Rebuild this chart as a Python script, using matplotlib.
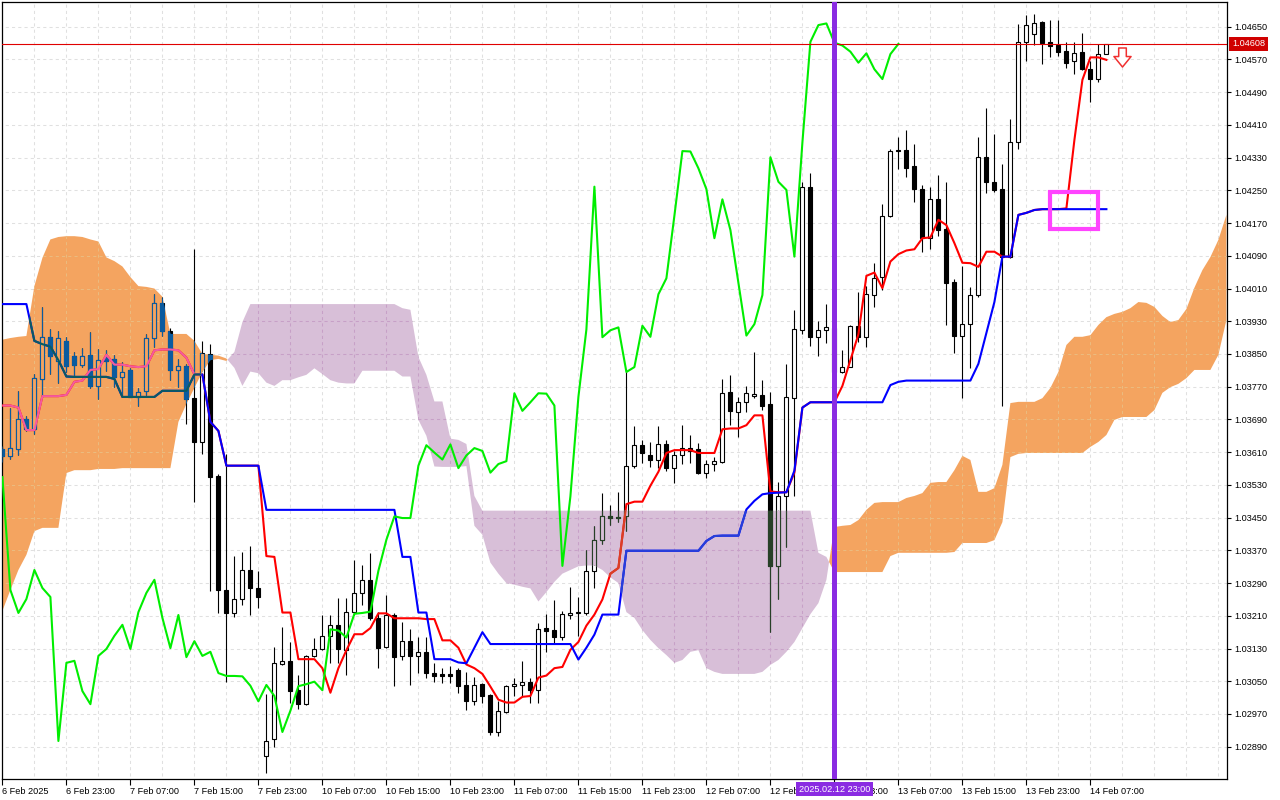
import numpy as np
import matplotlib
matplotlib.use('Agg')
import matplotlib.pyplot as plt
import matplotlib.colors as mcolors
from matplotlib.path import Path
from matplotlib.patches import Rectangle

plt.rcParams['font.family'] = ['Liberation Sans', 'DejaVu Sans']

# ---- hourly candles, 6 Feb 15:00 .. 14 Feb 10:00 ----
opens = [
    1.03618, 1.03601, 1.03618, 1.03691, 1.03667, 1.03789, 1.03892, 1.03833, 1.03882, 1.03845,
    1.03823, 1.03848, 1.03772, 1.03841, 1.03838, 1.03794, 1.03811, 1.03745, 1.03760, 1.03888,
    1.03975, 1.03906, 1.03811, 1.03821, 1.03742, 1.03635, 1.03850, 1.03552, 1.03273, 1.03217,
    1.03251, 1.03322, 1.03278, 1.02867, 1.02909, 1.03092, 1.03100, 1.03029, 1.02994, 1.03112,
    1.03129, 1.03161, 1.03188, 1.03126, 1.03219, 1.03266, 1.03298, 1.03205, 1.03134, 1.03212,
    1.03112, 1.03148, 1.03112, 1.03122, 1.03070, 1.03068, 1.03067, 1.03078, 1.03041, 1.03001,
    1.03043, 1.03016, 1.02925, 1.02976, 1.03038, 1.03041, 1.03049, 1.03028, 1.03179, 1.03175,
    1.03157, 1.03213, 1.03216, 1.03218, 1.03320, 1.03396, 1.03453, 1.03452, 1.03453, 1.03577,
    1.03627, 1.03604, 1.03590, 1.03629, 1.03571, 1.03602, 1.03620, 1.03618, 1.03560, 1.03581,
    1.03587, 1.03756, 1.03708, 1.03733, 1.03748, 1.03749, 1.03728, 1.03332, 1.03502, 1.03743,
    1.03908, 1.04259, 1.03891, 1.03908, 1.03914, 1.03805, 1.03818, 1.03919, 1.03892, 1.03993,
    1.04038, 1.04188, 1.04349, 1.04349, 1.04310, 1.04253, 1.04133, 1.04229, 1.04156, 1.04027,
    1.03895, 1.03923, 1.03993, 1.04331, 1.04271, 1.04253, 1.04088, 1.04367, 1.04613, 1.04631,
    1.04661, 1.04612, 1.04605, 1.04591, 1.04565, 1.04587, 1.04546, 1.04522, 1.04583,
]
highs = [
    1.03625, 1.03719, 1.03760, 1.03698, 1.03802, 1.03965, 1.03911, 1.03906, 1.03892, 1.03855,
    1.03865, 1.03903, 1.03863, 1.03860, 1.03848, 1.03830, 1.03816, 1.03767, 1.03899, 1.03997,
    1.03989, 1.03914, 1.03838, 1.03826, 1.04107, 1.03882, 1.03874, 1.03557, 1.03606, 1.03356,
    1.03366, 1.03381, 1.03320, 1.03019, 1.03134, 1.03183, 1.03146, 1.03065, 1.03114, 1.03156,
    1.03212, 1.03212, 1.03254, 1.03254, 1.03346, 1.03334, 1.03364, 1.03219, 1.03261, 1.03217,
    1.03195, 1.03178, 1.03158, 1.03158, 1.03095, 1.03082, 1.03087, 1.03082, 1.03073, 1.03061,
    1.03046, 1.03019, 1.03001, 1.03041, 1.03058, 1.03100, 1.03059, 1.03193, 1.03215, 1.03248,
    1.03222, 1.03281, 1.03257, 1.03372, 1.03429, 1.03510, 1.03481, 1.03513, 1.03813, 1.03674,
    1.03640, 1.03636, 1.03674, 1.03640, 1.03613, 1.03676, 1.03652, 1.03632, 1.03592, 1.03597,
    1.03790, 1.03799, 1.03745, 1.03772, 1.03855, 1.03786, 1.03758, 1.03536, 1.03825, 1.03958,
    1.04270, 1.04293, 1.03931, 1.03971, 1.03928, 1.03860, 1.03921, 1.04001, 1.04015, 1.04073,
    1.04216, 1.04350, 1.04381, 1.04398, 1.04363, 1.04263, 1.04259, 1.04287, 1.04270, 1.04033,
    1.04066, 1.04013, 1.04380, 1.04451, 1.04388, 1.04314, 1.04424, 1.04657, 1.04679, 1.04680,
    1.04665, 1.04666, 1.04666, 1.04612, 1.04612, 1.04634, 1.04565, 1.04607, 1.04608,
]
lows = [
    1.03586, 1.03594, 1.03603, 1.03662, 1.03655, 1.03745, 1.03801, 1.03780, 1.03805, 1.03794,
    1.03818, 1.03767, 1.03739, 1.03808, 1.03769, 1.03744, 1.03744, 1.03723, 1.03750, 1.03867,
    1.03894, 1.03786, 1.03769, 1.03680, 1.03488, 1.03606, 1.03271, 1.03217, 1.03048, 1.03207,
    1.03236, 1.03212, 1.03229, 1.02826, 1.02889, 1.03090, 1.02997, 1.02982, 1.02992, 1.03109,
    1.03126, 1.03095, 1.03095, 1.03065, 1.03212, 1.03236, 1.03200, 1.03082, 1.03131, 1.03038,
    1.03102, 1.03041, 1.03070, 1.03058, 1.03048, 1.03046, 1.03046, 1.03021, 1.02980, 1.02993,
    1.02997, 1.02919, 1.02916, 1.02973, 1.03014, 1.03014, 1.02996, 1.02996, 1.03121, 1.03141,
    1.03152, 1.03202, 1.03161, 1.03213, 1.03277, 1.03386, 1.03432, 1.03439, 1.03417, 1.03571,
    1.03584, 1.03573, 1.03571, 1.03565, 1.03535, 1.03581, 1.03584, 1.03557, 1.03546, 1.03565,
    1.03584, 1.03676, 1.03647, 1.03708, 1.03742, 1.03714, 1.03170, 1.03250, 1.03378, 1.03502,
    1.03899, 1.03870, 1.03844, 1.03876, 1.03786, 1.03804, 1.03817, 1.03880, 1.03868, 1.03964,
    1.04006, 1.04184, 1.04302, 1.04283, 1.04222, 1.04100, 1.04107, 1.04138, 1.03921, 1.03853,
    1.03743, 1.03815, 1.03990, 1.04243, 1.04247, 1.03723, 1.04084, 1.04351, 1.04567, 1.04605,
    1.04558, 1.04575, 1.04578, 1.04550, 1.04534, 1.04544, 1.04467, 1.04516, 1.04583,
]
closes = [
    1.03601, 1.03620, 1.03691, 1.03667, 1.03791, 1.03892, 1.03845, 1.03889, 1.03821, 1.03823,
    1.03845, 1.03772, 1.03835, 1.03833, 1.03794, 1.03806, 1.03745, 1.03756, 1.03889, 1.03975,
    1.03906, 1.03811, 1.03821, 1.03741, 1.03635, 1.03852, 1.03549, 1.03273, 1.03217, 1.03251,
    1.03322, 1.03278, 1.03256, 1.02904, 1.03095, 1.03100, 1.03026, 1.02994, 1.03112, 1.03129,
    1.03161, 1.03188, 1.03129, 1.03219, 1.03266, 1.03298, 1.03205, 1.03131, 1.03212, 1.03109,
    1.03148, 1.03112, 1.03122, 1.03070, 1.03063, 1.03063, 1.03062, 1.03039, 1.03001, 1.03041,
    1.03014, 1.02926, 1.02978, 1.03038, 1.03043, 1.03049, 1.03028, 1.03177, 1.03174, 1.03157,
    1.03215, 1.03217, 1.03220, 1.03320, 1.03396, 1.03453, 1.03449, 1.03449, 1.03577, 1.03627,
    1.03609, 1.03592, 1.03629, 1.03571, 1.03602, 1.03620, 1.03613, 1.03560, 1.03581, 1.03588,
    1.03754, 1.03711, 1.03732, 1.03754, 1.03753, 1.03724, 1.03332, 1.03502, 1.03745, 1.03910,
    1.04259, 1.03891, 1.03908, 1.03915, 1.03806, 1.03818, 1.03919, 1.03892, 1.03996, 1.04035,
    1.04188, 1.04346, 1.04345, 1.04304, 1.04253, 1.04133, 1.04228, 1.04153, 1.04024, 1.03895,
    1.03923, 1.03994, 1.04331, 1.04271, 1.04251, 1.04088, 1.04367, 1.04613, 1.04654, 1.04658,
    1.04611, 1.04604, 1.04589, 1.04562, 1.04585, 1.04546, 1.04522, 1.04583, 1.04608,
]

# ---- Ichimoku lines ----
tenkan = [
    1.03724, 1.03724, 1.03719, 1.03664, 1.03664, 1.03747, 1.03747, 1.03747, 1.03750, 1.03782,
    1.03785, 1.03811, 1.03813, 1.03848, 1.03824, 1.03824, 1.03820, 1.03818, 1.03820, 1.03859,
    1.03861, 1.03861, 1.03859, 1.03841, 1.03800, 1.03800, 1.03684, 1.03662, 1.03577, 1.03577,
    1.03577, 1.03577, 1.03577, 1.03356, 1.03354, 1.03218, 1.03218, 1.03104, 1.03104, 1.03104,
    1.03082, 1.03022, 1.03082, 1.03126, 1.03165, 1.03165, 1.03180, 1.03216, 1.03216, 1.03204,
    1.03204, 1.03204, 1.03204, 1.03202, 1.03202, 1.03150, 1.03150, 1.03132, 1.03091, 1.03082,
    1.03068, 1.03037, 1.03005, 1.02998, 1.02998, 1.03012, 1.03014, 1.03059, 1.03064, 1.03082,
    1.03085, 1.03127, 1.03146, 1.03186, 1.03213, 1.03250, 1.03313, 1.03327, 1.03483, 1.03489,
    1.03489, 1.03528, 1.03562, 1.03608, 1.03615, 1.03615, 1.03615, 1.03608, 1.03608, 1.03608,
    1.03666, 1.03668, 1.03668, 1.03676, 1.03700, 1.03700, 1.03514, 1.03512, 1.03512, 1.03560,
    1.03719, 1.03732, 1.03732, 1.03732, 1.03732, 1.03772, 1.03835, 1.03898, 1.04041, 1.04049,
    1.04011, 1.04076, 1.04094, 1.04103, 1.04106, 1.04133, 1.04135, 1.04178, 1.04165, 1.04121,
    1.04073, 1.04072, 1.04063, 1.04100, 1.04100, 1.04088, 1.04088, 1.04190, 1.04195, 1.04202,
    1.04204, 1.04204, 1.04204, 1.04206, 1.04373, 1.04520, 1.04575, 1.04575, 1.04569,
]
kijun = [
    1.03972, 1.03972, 1.03972, 1.03972, 1.03882, 1.03874, 1.03868, 1.03835, 1.03795, 1.03794,
    1.03794, 1.03794, 1.03794, 1.03794, 1.03789, 1.03745, 1.03745, 1.03745, 1.03745, 1.03745,
    1.03760, 1.03760, 1.03760, 1.03760, 1.03800, 1.03800, 1.03684, 1.03662, 1.03577, 1.03577,
    1.03577, 1.03577, 1.03577, 1.03469, 1.03469, 1.03469, 1.03469, 1.03469, 1.03469, 1.03469,
    1.03469, 1.03469, 1.03469, 1.03469, 1.03469, 1.03469, 1.03469, 1.03469, 1.03469, 1.03469,
    1.03354, 1.03354, 1.03218, 1.03218, 1.03104, 1.03104, 1.03104, 1.03096, 1.03094, 1.03132,
    1.03170, 1.03141, 1.03141, 1.03141, 1.03141, 1.03141, 1.03141, 1.03141, 1.03141, 1.03141,
    1.03141, 1.03141, 1.03103, 1.03132, 1.03164, 1.03213, 1.03213, 1.03213, 1.03369, 1.03369,
    1.03369, 1.03369, 1.03369, 1.03369, 1.03369, 1.03369, 1.03369, 1.03369, 1.03393, 1.03405,
    1.03406, 1.03406, 1.03406, 1.03470, 1.03491, 1.03507, 1.03510, 1.03511, 1.03512, 1.03565,
    1.03719, 1.03732, 1.03732, 1.03732, 1.03732, 1.03732, 1.03732, 1.03732, 1.03732, 1.03732,
    1.03732, 1.03774, 1.03782, 1.03785, 1.03785, 1.03785, 1.03785, 1.03785, 1.03785, 1.03785,
    1.03785, 1.03785, 1.03826, 1.03901, 1.03977, 1.04088, 1.04088, 1.04190, 1.04195, 1.04202,
    1.04204, 1.04204, 1.04204, 1.04204, 1.04204, 1.04204, 1.04204, 1.04204, 1.04204,
]
span_a = [
    1.03885, 1.03889, 1.03892, 1.03894, 1.04016, 1.04085, 1.04130, 1.04136, 1.04138, 1.04138,
    1.04136, 1.04130, 1.04125, 1.04086, 1.04077, 1.04064, 1.04038, 1.04016, 1.04014, 1.04010,
    1.03990, 1.03899, 1.03899, 1.03899, 1.03882, 1.03850, 1.03848, 1.03846, 1.03839, 1.03816,
    1.03772, 1.03807, 1.03803, 1.03780, 1.03772, 1.03786, 1.03786, 1.03793, 1.03799, 1.03815,
    1.03801, 1.03786, 1.03780, 1.03778, 1.03778, 1.03809, 1.03809, 1.03809, 1.03809, 1.03809,
    1.03795, 1.03795, 1.03689, 1.03650, 1.03575, 1.03574, 1.03574, 1.03574, 1.03576, 1.03430,
    1.03408, 1.03340, 1.03313, 1.03290, 1.03286, 1.03281, 1.03277, 1.03245, 1.03268, 1.03293,
    1.03313, 1.03322, 1.03331, 1.03333, 1.03333, 1.03322, 1.03304, 1.03290, 1.03219, 1.03205,
    1.03175, 1.03151, 1.03131, 1.03114, 1.03095, 1.03102, 1.03122, 1.03126, 1.03082, 1.03073,
    1.03068, 1.03068, 1.03068, 1.03068, 1.03068, 1.03073, 1.03090, 1.03102, 1.03122, 1.03146,
    1.03180, 1.03214, 1.03241, 1.03298, 1.03427, 1.03430, 1.03432, 1.03444, 1.03469, 1.03486,
    1.03488, 1.03488, 1.03488, 1.03498, 1.03503, 1.03510, 1.03535, 1.03537, 1.03537, 1.03566,
    1.03601, 1.03591, 1.03513, 1.03513, 1.03522, 1.03579, 1.03730, 1.03733, 1.03733, 1.03733,
    1.03742, 1.03767, 1.03806, 1.03872, 1.03892, 1.03892, 1.03896, 1.03921, 1.03940, 1.03948,
    1.03953, 1.03962, 1.03977, 1.03975, 1.03965, 1.03943, 1.03928, 1.03933, 1.03960, 1.04012,
    1.04055, 1.04087, 1.04129, 1.04190,
]
span_b = [
    1.03222, 1.03273, 1.03322, 1.03359, 1.03417, 1.03425, 1.03425, 1.03425, 1.03559, 1.03566,
    1.03566, 1.03566, 1.03569, 1.03569, 1.03569, 1.03571, 1.03571, 1.03571, 1.03571, 1.03571,
    1.03571, 1.03571, 1.03684, 1.03728, 1.03767, 1.03806, 1.03835, 1.03838, 1.03833, 1.03855,
    1.03928, 1.03972, 1.03972, 1.03972, 1.03972, 1.03972, 1.03972, 1.03972, 1.03972, 1.03972,
    1.03972, 1.03972, 1.03972, 1.03972, 1.03972, 1.03972, 1.03972, 1.03972, 1.03972, 1.03972,
    1.03962, 1.03958, 1.03843, 1.03799, 1.03734, 1.03734, 1.03643, 1.03640, 1.03630, 1.03503,
    1.03467, 1.03467, 1.03467, 1.03467, 1.03467, 1.03467, 1.03467, 1.03467, 1.03467, 1.03467,
    1.03467, 1.03467, 1.03467, 1.03467, 1.03467, 1.03467, 1.03467, 1.03467, 1.03467, 1.03467,
    1.03467, 1.03467, 1.03467, 1.03467, 1.03467, 1.03467, 1.03467, 1.03467, 1.03467, 1.03467,
    1.03467, 1.03467, 1.03467, 1.03467, 1.03467, 1.03467, 1.03467, 1.03467, 1.03467, 1.03467,
    1.03467, 1.03467, 1.03364, 1.03354, 1.03317, 1.03317, 1.03317, 1.03317, 1.03317, 1.03317,
    1.03317, 1.03356, 1.03364, 1.03364, 1.03364, 1.03364, 1.03364, 1.03364, 1.03364, 1.03366,
    1.03388, 1.03388, 1.03388, 1.03388, 1.03395, 1.03439, 1.03598, 1.03606, 1.03608, 1.03608,
    1.03608, 1.03608, 1.03608, 1.03608, 1.03608, 1.03608, 1.03623, 1.03635, 1.03652, 1.03689,
    1.03696, 1.03696, 1.03696, 1.03696, 1.03713, 1.03755, 1.03769, 1.03777, 1.03791, 1.03811,
    1.03811, 1.03811, 1.03848, 1.03933,
]
chikou_shift = 26

tick_labels = ["6 Feb 2025", "6 Feb 23:00", "7 Feb 07:00", "7 Feb 15:00", "7 Feb 23:00",
               "10 Feb 07:00", "10 Feb 15:00", "10 Feb 23:00", "11 Feb 07:00", "11 Feb 15:00",
               "11 Feb 23:00", "12 Feb 07:00", "12 Feb 15:00", "12 Feb 23:00", "13 Feb 07:00",
               "13 Feb 15:00", "13 Feb 23:00", "14 Feb 07:00"]
bars_per_label = 8
price_ticks = [round(1.02890 + 0.0008 * k, 5) for k in range(23)]

last_price = 1.04608
vline_bar = 104
vline_label = "2025.02.12 23:00"
box_bars = (131, 137)
box_prices = (1.04156, 1.04246)
arrow_bar, arrow_price = 140, 1.04576

SANDY = '#F4A460'
THISTLE = '#D8BFD8'
GRID = '#E0E0E0'


def xor_col(cloud, col):
    # MT4 draws the cloud in XOR mode over what is already on the chart
    a = np.round(np.array(mcolors.to_rgb(cloud)) * 255).astype(int)
    b = np.round(np.array(mcolors.to_rgb(col)) * 255).astype(int)
    return tuple((a ^ (255 - b)) / 255.0)


o = np.array(opens); h = np.array(highs); l = np.array(lows); c = np.array(closes)
bars = np.arange(len(o))
up = c >= o
body_lo = np.minimum(o, c)
body_h = np.maximum(np.abs(c - o), 0.000012)
sa = np.array(span_a); sb = np.array(span_b)
cloud_x = np.arange(len(sa))

fig = plt.figure(figsize=(12.8, 8), dpi=100, facecolor='white')
ax = fig.add_axes([2 / 1280, 21 / 800, 1225 / 1280, 777 / 800])
ax.set_xlim(-0.05, 153.075)
ax.set_ylim(1.028111, 1.047104)

grid_x = np.arange(0, 156, 4)


def draw_grid(color, clip=None, z=0.5):
    hl = ax.hlines(price_ticks, -5, 160, colors=color, lw=0.75, linestyles=(0, (3, 3)), zorder=z)
    vl = ax.vlines(grid_x, 1.02, 1.05, colors=color, lw=0.75, linestyles=(0, (3, 3)), zorder=z)
    if clip is not None:
        hl.set_clip_path(clip, ax.transData)
        vl.set_clip_path(clip, ax.transData)


draw_grid(GRID)

orange = ax.fill_between(cloud_x, sa, sb, where=sa >= sb, interpolate=True,
                         facecolor=SANDY, lw=0, zorder=1)
thistle = ax.fill_between(cloud_x, sa, sb, where=sa < sb, interpolate=True,
                          facecolor=THISTLE, lw=0, zorder=1)
clip_or = Path.make_compound_path(*orange.get_paths())
clip_th = Path.make_compound_path(*thistle.get_paths())

draw_grid(xor_col(SANDY, GRID), clip_or, z=1.1)
draw_grid(xor_col(THISTLE, GRID), clip_th, z=1.1)


def draw_candles(edge, bear_face, bull_face, clip=None, z=2.0):
    faces = [bull_face if u else bear_face for u in up]
    wicks = ax.vlines(bars, l, h, colors=[edge], lw=0.8, zorder=z)
    bodies = ax.bar(bars, body_h, width=0.5, bottom=body_lo, color=faces,
                    edgecolor=edge, linewidth=0.8, zorder=z + 0.01)
    if clip is not None:
        wicks.set_clip_path(clip, ax.transData)
        for p in bodies.patches:
            p.set_clip_path(clip, ax.transData)


def draw_lines(tk_col, kj_col, clip=None, z=3.0):
    t, = ax.plot(bars, tenkan, color=tk_col, lw=1.5, zorder=z)
    k, = ax.plot(bars, kijun, color=kj_col, lw=1.5, zorder=z + 0.01)
    if clip is not None:
        t.set_clip_path(clip, ax.transData)
        k.set_clip_path(clip, ax.transData)


draw_candles('black', 'black', 'white')
draw_lines('#FF0000', '#0000FF')
for cl, path in ((SANDY, clip_or), (THISTLE, clip_th)):
    draw_candles(xor_col(cl, 'black'), xor_col(cl, 'black'), cl, clip=path, z=3.2)
    draw_lines(xor_col(cl, '#FF0000'), xor_col(cl, '#0000FF'), clip=path, z=3.5)

# chikou span: closes drawn 26 bars back
ax.plot(bars[:-chikou_shift], closes[chikou_shift:], color='#00EE00', lw=1.5, zorder=4)

ax.axhline(last_price, color='#E00000', lw=0.8, zorder=5)
ax.axvline(vline_bar, color='#8A2BE2', lw=3.6, zorder=5)
ax.add_patch(Rectangle((box_bars[0], box_prices[0]), box_bars[1] - box_bars[0],
                       box_prices[1] - box_prices[0], fill=False, ec='#FF44FF', lw=3, zorder=6))

arrow = Path([(-0.2, 0.5), (0.2, 0.5), (0.2, 0.05), (0.45, 0.05), (0.0, -0.5),
              (-0.45, 0.05), (-0.2, 0.05), (-0.2, 0.5)],
             [Path.MOVETO] + [Path.LINETO] * 6 + [Path.CLOSEPOLY])
ax.plot([arrow_bar], [arrow_price], marker=arrow, ms=13.7, mfc='white', mec='#F03030',
        mew=1.1, zorder=6, clip_on=False, ls='none')

# axes
ax.yaxis.tick_right()
ax.set_yticks(price_ticks)
ax.set_yticklabels([f'{v:.5f}' for v in price_ticks])
ax.tick_params(axis='y', direction='out', length=3, width=0.8, pad=2, labelsize=6.6, colors='black')
ax.set_xticks(np.arange(len(tick_labels)) * bars_per_label)
ax.set_xticklabels(tick_labels, ha='left')
ax.tick_params(axis='x', direction='out', length=4, width=0.8, pad=1.5, labelsize=6.6)
for s in ax.spines.values():
    s.set_color('black')
    s.set_linewidth(0.9)

ax.annotate(f'{last_price:.5f}', xy=(1, last_price), xycoords=('axes fraction', 'data'),
            xytext=(5, 0), textcoords='offset pixels', ha='left', va='center', color='white',
            fontsize=6.6, annotation_clip=False, zorder=10,
            bbox=dict(boxstyle='square,pad=0.3', fc='#D00000', ec='none'))
ax.annotate(vline_label, xy=(vline_bar, 0), xycoords=('data', 'axes fraction'),
            xytext=(0, -10), textcoords='offset pixels', ha='center', va='center', color='white',
            fontsize=6.6, annotation_clip=False, zorder=10,
            bbox=dict(boxstyle='square,pad=0.3', fc='#8A2BE2', ec='none'))

fig.savefig('out.png', dpi=100, facecolor='white')
